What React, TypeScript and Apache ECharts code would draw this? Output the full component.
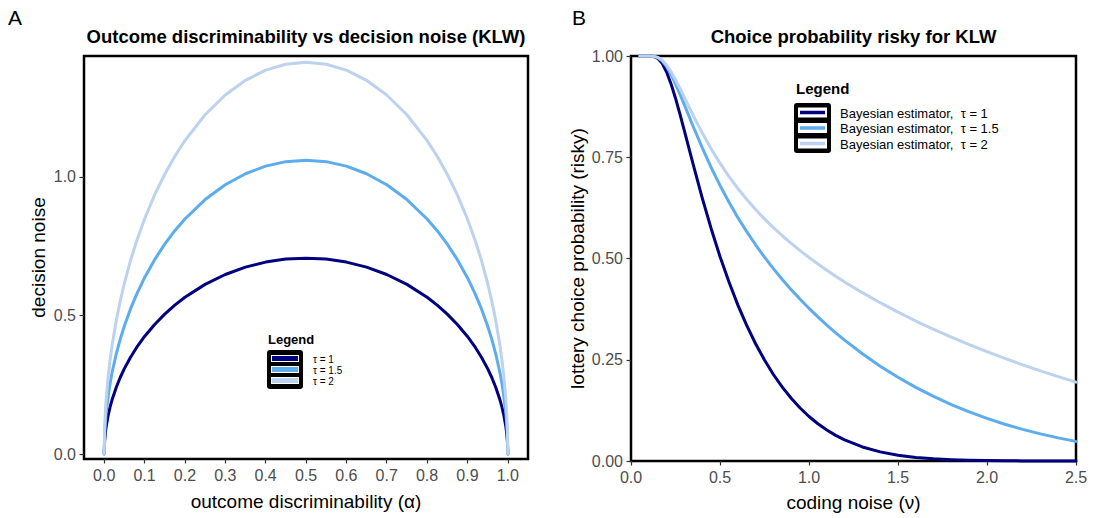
import React, { useEffect, useRef } from "react";
import * as echarts from "echarts";

// ---------- Data ----------
// Panel A: outcome discriminability (alpha) vs decision noise
const alpha = [0, 0.001, 0.003, 0.005, 0.01, 0.015, 0.02, 0.03, 0.04, 0.05, 0.065, 0.08, 0.1, 0.125, 0.15, 0.175, 0.2, 0.25, 0.3, 0.35, 0.4, 0.45, 0.5,
  0.55, 0.6, 0.65, 0.7, 0.75, 0.8, 0.825, 0.85, 0.875, 0.9, 0.92, 0.935, 0.95, 0.96, 0.97, 0.98, 0.985, 0.99, 0.995, 0.997, 0.999, 1];
const noiseTau1 = [0, 0.0447, 0.0773, 0.0997, 0.1407, 0.1719, 0.198, 0.2412, 0.2771, 0.3082, 0.3486, 0.3837, 0.4243, 0.4677, 0.505, 0.5374, 0.5657, 0.6124, 0.6481, 0.6745, 0.6928, 0.7036, 0.7071,
  0.7036, 0.6928, 0.6745, 0.6481, 0.6124, 0.5657, 0.5374, 0.505, 0.4677, 0.4243, 0.3837, 0.3486, 0.3082, 0.2771, 0.2412, 0.198, 0.1719, 0.1407, 0.0997, 0.0773, 0.0447, 0];
const noiseTau15 = [0, 0.0671, 0.116, 0.1496, 0.2111, 0.2579, 0.297, 0.3618, 0.4157, 0.4623, 0.5229, 0.5756, 0.6364, 0.7016, 0.7575, 0.8061, 0.8485, 0.9186, 0.9722, 1.0118, 1.0392, 1.0554, 1.0607,
  1.0554, 1.0392, 1.0118, 0.9722, 0.9186, 0.8485, 0.8061, 0.7575, 0.7016, 0.6364, 0.5756, 0.5229, 0.4623, 0.4157, 0.3618, 0.297, 0.2579, 0.2111, 0.1496, 0.116, 0.0671, 0];
const noiseTau2 = [0, 0.0894, 0.1547, 0.1994, 0.2814, 0.3438, 0.396, 0.4824, 0.5542, 0.6164, 0.6972, 0.7674, 0.8485, 0.9354, 1.01, 1.0748, 1.1314, 1.2247, 1.2962, 1.3491, 1.3856, 1.4071, 1.4142,
  1.4071, 1.3856, 1.3491, 1.2962, 1.2247, 1.1314, 1.0748, 1.01, 0.9354, 0.8485, 0.7674, 0.6972, 0.6164, 0.5542, 0.4824, 0.396, 0.3438, 0.2814, 0.1994, 0.1547, 0.0894, 0];

// Panel B: coding noise (nu) vs lottery choice probability
const nu = [0.05, 0.1, 0.125, 0.15, 0.175, 0.2, 0.225, 0.25, 0.275, 0.3, 0.35, 0.4, 0.45, 0.5, 0.55, 0.6, 0.65, 0.7, 0.75, 0.8, 0.85, 0.9, 0.95, 1.0,
  1.05, 1.1, 1.15, 1.2, 1.3, 1.4, 1.5, 1.6, 1.7, 1.8, 1.9, 2.0, 2.1, 2.2, 2.3, 2.4, 2.5];
const probTau1 = [1, 1, 0.9991, 0.9944, 0.982, 0.9606, 0.9311, 0.8958, 0.8566, 0.8154, 0.7314, 0.6499, 0.5742, 0.5048, 0.4424, 0.3855, 0.3347, 0.2895, 0.2492, 0.2136, 0.1823, 0.1548, 0.1308, 0.1099,
  0.0919, 0.0765, 0.0633, 0.0521, 0.0347, 0.0225, 0.0143, 0.0089, 0.0054, 0.0032, 0.0018, 0.001, 0.0006, 0.0003, 0.0002, 0.0001, 0];
const probTau15 = [1, 1, 0.9994, 0.9962, 0.988, 0.9738, 0.9545, 0.9314, 0.9059, 0.8794, 0.8254, 0.7737, 0.7251, 0.6805, 0.6395, 0.6014, 0.5663, 0.5339, 0.5032, 0.4749, 0.4482, 0.4231, 0.3994, 0.377,
  0.3557, 0.3356, 0.3165, 0.2984, 0.2647, 0.2342, 0.2067, 0.1819, 0.1594, 0.1394, 0.1212, 0.1051, 0.0908, 0.0781, 0.0669, 0.0571, 0.0485];
const probTau2 = [1, 1, 0.9995, 0.9967, 0.9896, 0.9775, 0.961, 0.9413, 0.9198, 0.8976, 0.8527, 0.8103, 0.771, 0.7353, 0.703, 0.6729, 0.6462, 0.621, 0.5979, 0.5763, 0.5562, 0.5373, 0.5194, 0.5025,
  0.4863, 0.471, 0.4562, 0.4422, 0.4156, 0.3909, 0.3675, 0.3456, 0.3251, 0.3057, 0.2873, 0.2698, 0.2532, 0.2374, 0.2225, 0.2082, 0.1947];

const tauLabels = ["\u03c4 = 1", "\u03c4 = 1.5", "\u03c4 = 2"];
const legendLabelsB = ["Bayesian estimator,  \u03c4 = 1", "Bayesian estimator,  \u03c4 = 1.5", "Bayesian estimator,  \u03c4 = 2"];
const colors = ["#000080", "#5CACEE", "#BCD2EE"];

const leftXTicks = [0, 0.1, 0.2, 0.3, 0.4, 0.5, 0.6, 0.7, 0.8, 0.9, 1.0];
const leftYTicks = [0, 0.5, 1.0];

const FONT = "'Liberation Sans', Arial, Helvetica, sans-serif";

export default function App() {
  const ref = useRef<HTMLDivElement>(null);

  useEffect(() => {
    if (!ref.current) return;
    const chart = echarts.init(ref.current, null, { renderer: "svg" });

    const pair = (xs: number[], ys: number[]) => xs.map((x, i) => [x, ys[i]]);

    const axisLabel = { color: "#4D4D4D", fontSize: 16, fontFamily: FONT, margin: 8 };
    const axisTick = { show: true, inside: false, length: 4.5, lineStyle: { color: "#333", width: 1.2 } };
    const axisLine = { show: false, onZero: false };
    const nameStyle = { color: "#000", fontSize: 19, fontFamily: FONT };

    const lineSeries = (name: string, data: number[][], color: string, idx: number) => ({
      type: "line",
      name,
      xAxisIndex: idx,
      yAxisIndex: idx,
      data,
      showSymbol: false,
      symbol: "none",
      smooth: false,
      clip: false,
      lineStyle: { color, width: 3, join: "round", cap: "round" },
      silent: true,
    });

    const legendA = (x: number, y: number) => {
      const els: any[] = [];
      els.push({ type: "text", x, y: y - 14, style: { text: "Legend", font: `bold 13px ${FONT}`, fill: "#000", textVerticalAlign: "middle" } });
      els.push({ type: "rect", shape: { x: x - 1, y: y - 3, width: 36, height: 39, r: 3 }, style: { fill: "#000" } });
      for (let i = 0; i < 3; i++) {
        const cy = y + 5.5 + i * 11;
        els.push({ type: "rect", shape: { x: x + 3, y: cy - 3.5, width: 28, height: 7 }, style: { fill: "#fff" } });
        els.push({ type: "rect", shape: { x: x + 4, y: cy - 2.5, width: 26, height: 5 }, style: { fill: colors[i] } });
        els.push({ type: "text", x: x + 45, y: cy + 1, style: { text: tauLabels[i], font: `10px ${FONT}`, fill: "#000", textVerticalAlign: "middle" } });
      }
      return els;
    };

    const legendB = (x: number, y: number) => {
      const els: any[] = [];
      els.push({ type: "text", x: x + 1, y: y - 15, style: { text: "Legend", font: `bold 15px ${FONT}`, fill: "#000", textVerticalAlign: "middle" } });
      els.push({ type: "rect", shape: { x: x - 1, y: y, width: 37, height: 50, r: 3 }, style: { fill: "#000" } });
      for (let i = 0; i < 3; i++) {
        const cy = y + 9.5 + i * 15.5;
        els.push({ type: "rect", shape: { x: x + 3, y: cy - 5, width: 29, height: 10 }, style: { fill: "#fff" } });
        els.push({ type: "line", shape: { x1: x + 5, y1: cy, x2: x + 30, y2: cy }, style: { stroke: colors[i], lineWidth: 3.5 } });
        els.push({ type: "text", x: x + 45, y: cy + 0.5, style: { text: legendLabelsB[i], font: `13px ${FONT}`, fill: "#000", textVerticalAlign: "middle" } });
      }
      return els;
    };

    const option: any = {
      animation: false,
      backgroundColor: "#fff",
      grid: [
        { left: 84, top: 56, width: 444, height: 403, show: true, borderColor: "#000", borderWidth: 2.5, backgroundColor: "transparent" },
        { left: 631, top: 56, width: 445, height: 405, show: true, borderColor: "#000", borderWidth: 2.5, backgroundColor: "transparent" },
      ],
      xAxis: [
        {
          type: "value", gridIndex: 0, min: -0.05, max: 1.05,
          axisLine, splitLine: { show: false },
          axisTick: { ...axisTick, customValues: leftXTicks },
          axisLabel: { ...axisLabel, customValues: leftXTicks, formatter: (v: number) => v.toFixed(1) },
          name: "outcome discriminability (\u03b1)", nameLocation: "middle", nameGap: 33, nameTextStyle: nameStyle,
        },
        {
          type: "value", gridIndex: 1, min: 0, max: 2.5, interval: 0.5,
          axisLine, splitLine: { show: false },
          axisTick, axisLabel: { ...axisLabel, formatter: (v: number) => v.toFixed(1) },
          name: "coding noise (\u03bd)", nameLocation: "middle", nameGap: 32, nameTextStyle: nameStyle,
        },
      ],
      yAxis: [
        {
          type: "value", gridIndex: 0, min: -0.018, max: 1.4368,
          axisLine, splitLine: { show: false },
          axisTick: { ...axisTick, customValues: leftYTicks },
          axisLabel: { ...axisLabel, customValues: leftYTicks, formatter: (v: number) => v.toFixed(1) },
          name: "decision noise", nameLocation: "middle", nameGap: 36, nameTextStyle: nameStyle,
        },
        {
          type: "value", gridIndex: 1, min: 0, max: 1, interval: 0.25,
          axisLine, splitLine: { show: false },
          axisTick, axisLabel: { ...axisLabel, formatter: (v: number) => v.toFixed(2) },
          name: "lottery choice probability (risky)", nameLocation: "middle", nameGap: 44, nameTextStyle: nameStyle,
        },
      ],
      series: [
        lineSeries("A1", pair(alpha, noiseTau1), colors[0], 0),
        lineSeries("A1.5", pair(alpha, noiseTau15), colors[1], 0),
        lineSeries("A2", pair(alpha, noiseTau2), colors[2], 0),
        lineSeries("B1", pair(nu, probTau1), colors[0], 1),
        lineSeries("B1.5", pair(nu, probTau15), colors[1], 1),
        lineSeries("B2", pair(nu, probTau2), colors[2], 1),
      ],
      graphic: [
        { type: "text", x: 8, y: 17, style: { text: "A", font: `21px ${FONT}`, fill: "#000", textVerticalAlign: "middle" } },
        { type: "text", x: 572, y: 17, style: { text: "B", font: `21px ${FONT}`, fill: "#000", textVerticalAlign: "middle" } },
        { type: "text", x: 306, y: 36, style: { text: "Outcome discriminability vs decision noise (KLW)", font: `bold 18.5px ${FONT}`, fill: "#000", textAlign: "center", textVerticalAlign: "middle" } },
        { type: "text", x: 853.5, y: 36, style: { text: "Choice probability risky for KLW", font: `bold 18.5px ${FONT}`, fill: "#000", textAlign: "center", textVerticalAlign: "middle" } },
        ...legendA(268, 353),
        ...legendB(795, 103),
      ],
    };

    chart.setOption(option);
    return () => chart.dispose();
  }, []);

  return (
    <div
      ref={ref}
      style={{ position: "fixed", left: 0, top: 0, width: 1094, height: 518, background: "#fff" }}
    />
  );
}
